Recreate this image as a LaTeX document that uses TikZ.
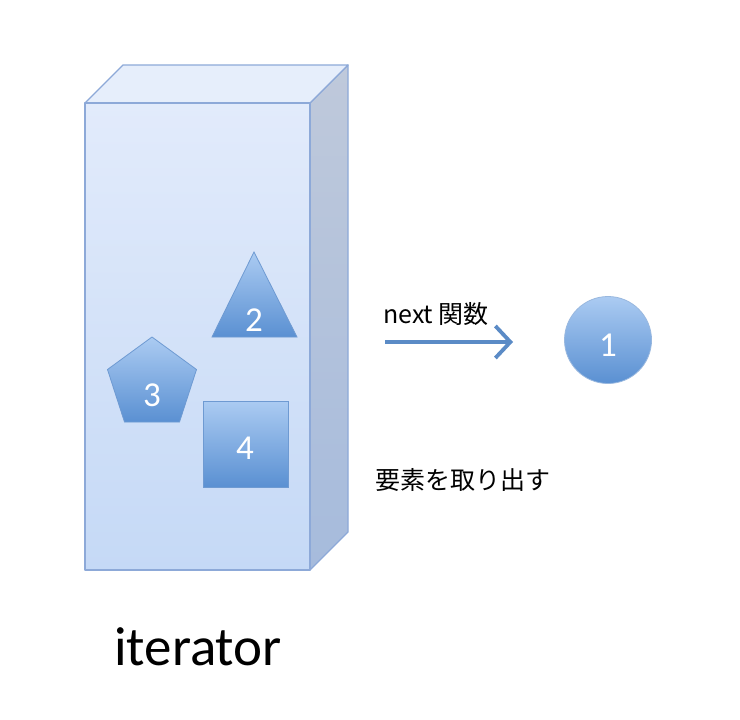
\documentclass[tikz,border=0pt]{standalone}
\usepackage{fontspec}
\setmainfont{Carlito}
\newfontfamily\jp{Noto Sans CJK JP}
\usetikzlibrary{arrows.meta}
\definecolor{boxline}{HTML}{8DA9D8}
\definecolor{fronttop}{HTML}{E2EBFB}
\definecolor{frontbot}{HTML}{C5D9F6}
\definecolor{topface}{HTML}{E6EEFB}
\definecolor{sidetop}{HTML}{BFC9DB}
\definecolor{sidebot}{HTML}{A6BBDC}
\definecolor{shapetop}{HTML}{ABCBF2}
\definecolor{shapebot}{HTML}{5A90D2}
\definecolor{shapeline}{HTML}{6E9AD2}
\definecolor{arrowblue}{HTML}{5B8BC6}
\tikzset{
  face/.style={draw=boxline, line width=1.3pt, line join=round},
  item/.style={draw=shapeline, line width=0.8pt, top color=shapetop, bottom color=shapebot},
  digit/.style={text=white, font=\fontsize{35}{35}\selectfont, anchor=base, inner sep=0pt},
  jptext/.style={font=\jp\fontsize{25}{25}\selectfont, anchor=base west, inner sep=0pt},
}
\begin{document}
\begin{tikzpicture}[x=1pt,y=-1pt]
\useasboundingbox[fill=white] (0,0) rectangle (740,720);
% box
\path[face, top color=sidetop, bottom color=sidebot] (310,103) -- (348,65) -- (348,532) -- (310,570) -- cycle;
\path[face, fill=topface] (85,103) -- (123,65) -- (348,65) -- (310,103) -- cycle;
\path[face, top color=fronttop, bottom color=frontbot] (85,103) rectangle (310,570);
% items
\path[item] (254,252) -- (297,337) -- (212,337) -- cycle;
\node[digit] (n2) at (254,331) {2};
\path[item] (152,337) -- (196.5,369.5) -- (179.5,422) -- (124.5,422) -- (107.5,369.5) -- cycle;
\node[digit] (n3) at (152,406) {3};
\node[item, minimum width=85pt, minimum height=86pt, inner sep=0pt] (sq) at (245.5,444) {};
\node[digit] (n4) at (245,459) {4};
\node[item, circle, draw=shapeline!70, minimum size=87pt, inner sep=0pt] (c1) at (608,340) {};
\node[digit] (n1) at (608,356) {1};
% arrow
\coordinate (as) at (385,342);
\coordinate (ae) at (513,342);
\draw[arrowblue, line width=3.6pt, -{Straight Barb[length=15pt,width=32pt,line width=3.8pt]}] (as) -- (ae);
\node[jptext] (lbl) at (383,323) {next 関数};
\node[jptext] (take) at (375,489) {要素を取り出す};
\node[font=\fontsize{55}{55}\selectfont, anchor=base west, inner sep=0pt] (it) at (114,665) {iterator};
\end{tikzpicture}
\end{document}
